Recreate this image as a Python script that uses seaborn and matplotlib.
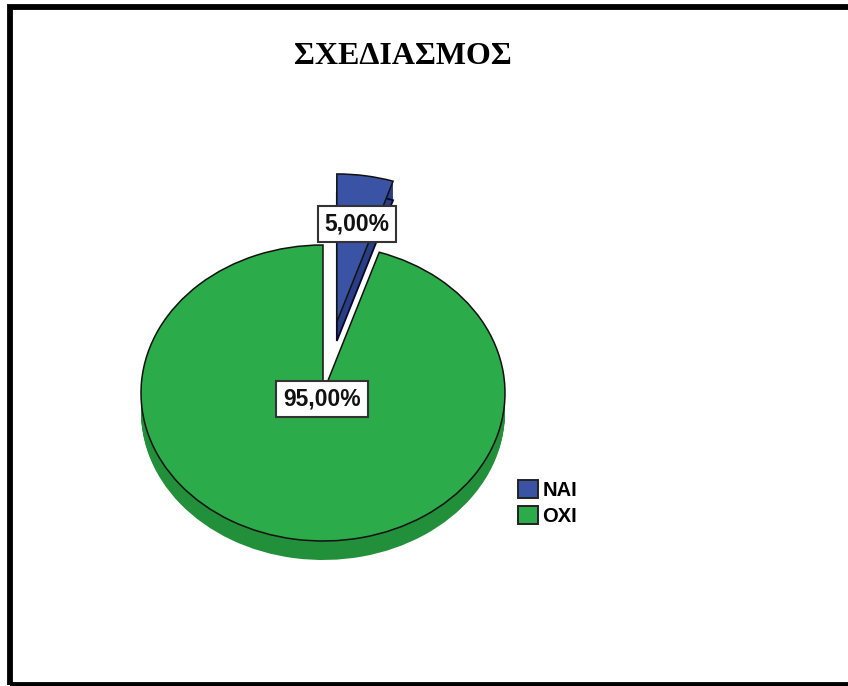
import matplotlib
matplotlib.use("Agg")
import matplotlib.pyplot as plt
from matplotlib.patches import Patch, Rectangle
import seaborn as sns

categories = ["ΝΑΙ", "ΟΧΙ"]
values = [5.0, 95.0]
value_labels = ["5,00%", "95,00%"]
title = "ΣΧΕΔΙΑΣΜΟΣ"

W, H = 848, 686
CX, CY, RX, RY = 323, 393, 182, 148
DEPTH = 19
EXPLODE = [0.486, 0.0]
top_colors = ["#3A53A4", "#2BAB49"]
side_colors = ["#2A3E86", "#22903A"]

sns.set_theme(style="white")
fig = plt.figure(figsize=(W / 100, H / 100), dpi=100, facecolor="white")
ax = fig.add_axes([0, 0, 1, 1])


def layer(offset, colors, edge, lw, z):
    wedges, _ = ax.pie(values, explode=EXPLODE, colors=colors, startangle=90,
                       counterclock=False, center=(0, -offset / RY), radius=1,
                       wedgeprops=dict(edgecolor=edge, linewidth=lw, zorder=z))
    return wedges


for d in range(DEPTH, 0, -1):
    layer(d, side_colors, "none", 0, 2)
# dark outline of the blue side face only
w = layer(DEPTH, side_colors, "#07072A", 1.3, 2)
w[1].set_visible(False)
# top face, with its black outline kept on the upper half of the green slice
top = layer(0, top_colors, "none", 0, 3)
outline = layer(0, ["none", "none"], "#111111", 1.1, 4)

ax.set_aspect("auto")
ax.set_xlim(-CX / RX, (W - CX) / RX)
ax.set_ylim((CY - H) / RY, CY / RY)
ax.set_axis_off()

clip = Rectangle((-2, 0), 4, 4, transform=ax.transData)
outline[1].set_clip_path(clip)

to_x = lambda px: (px - CX) / RX
to_y = lambda py: (CY - py) / RY
box = dict(boxstyle="square,pad=0.3", facecolor="white", edgecolor="#333333", linewidth=1.5)
label_px = [(357, 224), (322, 399)]
for lab, (px, py) in zip(value_labels, label_px):
    ax.text(to_x(px), to_y(py), lab, ha="center", va="center", fontsize=16.5,
            fontweight="bold", family="Liberation Sans", color="#111111", bbox=box, zorder=6)

ax.text(to_x(403), to_y(56), title, ha="center", va="center", fontsize=23,
        fontweight="bold", family="Liberation Serif", color="black", zorder=6)

handles = [Patch(facecolor=c, edgecolor="#222222", linewidth=1.4) for c in top_colors]
ax.legend(handles, categories, loc="upper left",
          bbox_to_anchor=(514 / W, 1 - 476 / H), frameon=False, handlelength=1.0,
          handleheight=1.0, handletextpad=0.22, labelspacing=0.3, borderpad=0.2,
          borderaxespad=0, labelcolor="black",
          prop=dict(family="Liberation Sans", weight="bold", size=14.5))

fig.add_artist(Rectangle((9.5 / W, 1 - 685 / H), (W + 20 - 9.5) / W, (685 - 7) / H,
                         transform=fig.transFigure, fill=False, edgecolor="black",
                         linewidth=4.2))
fig.savefig("out.png", dpi=100, facecolor="white")
